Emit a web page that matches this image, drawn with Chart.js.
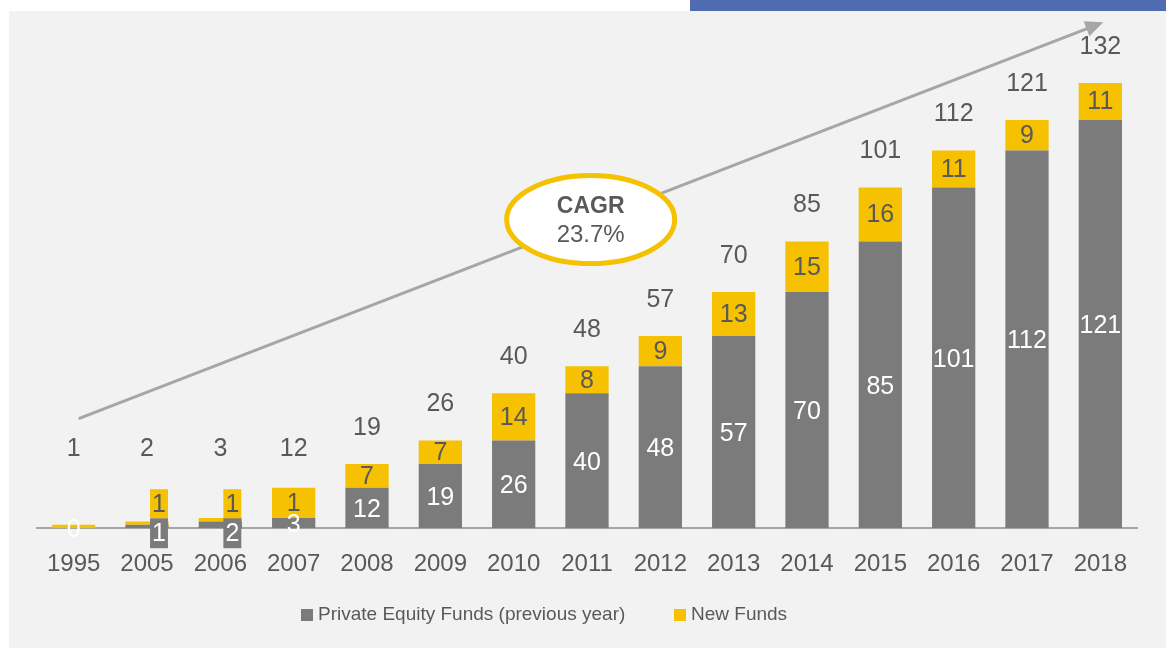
<!DOCTYPE html>
<html>
<head>
<meta charset="utf-8">
<script src="https://cdn.jsdelivr.net/npm/chart.js@4.4.1/dist/chart.umd.min.js"></script>
<style>
  html, body { margin: 0; padding: 0; background: #fff; }
  #wrap { position: relative; width: 1169px; height: 648px; overflow: hidden; }
  #panel { position: absolute; left: 9px; top: 11px; width: 1157px; height: 637px; background: #f2f2f2; }
  #topBar { position: absolute; left: 690px; top: 0; width: 476px; height: 11px; background: #506cb0; }
  #myChart { position: absolute; left: 0; top: 0; }
  .legendItem { position: absolute; top: 600px; height: 28px; line-height: 28px; font-family: "Liberation Sans", Arial, sans-serif; font-size: 19px; color: #595959; white-space: nowrap; }
  .legendBox { display: inline-block; width: 12px; height: 12px; margin-right: 5px; vertical-align: -1px; }
</style>
</head>
<body>
<div id="wrap">
  <div id="panel"></div>
  <div id="topBar"></div>
  <canvas id="myChart" width="1169" height="648"></canvas>
  <div class="legendItem" style="left:301px"><span class="legendBox" style="background:#7b7b7b"></span>Private Equity Funds (previous year)</div>
  <div class="legendItem" style="left:674px"><span class="legendBox" style="background:#f5c100"></span>New Funds</div>
</div>
<script>
const years = ['1995', '2005', '2006', '2007', '2008', '2009', '2010', '2011', '2012', '2013', '2014', '2015', '2016', '2017', '2018'];
const previousFunds = [0, 1, 2, 3, 12, 19, 26, 40, 48, 57, 70, 85, 101, 112, 121];
const newFunds = [1, 1, 1, 9, 7, 7, 14, 8, 9, 13, 15, 16, 11, 9, 11];
const totalFunds = [1, 2, 3, 12, 19, 26, 40, 48, 57, 70, 85, 101, 112, 121, 132];
// labels as printed in the source chart (2007 shows "1", 1995 has none)
const newFundLabels = ['', '1', '1', '1', '7', '7', '14', '8', '9', '13', '15', '16', '11', '9', '11'];
const cagrText = ['CAGR', '23.7%'];

const GREY = '#7b7b7b';
const YELLOW = '#f5c100';
const TEXT = '#595959';
const FONT = '"Liberation Sans", Arial, sans-serif';

// Draws value labels, totals, the growth arrow and the CAGR bubble
const annotations = {
    id: 'annotations',
    afterDatasetsDraw(chart) {
        const ctx = chart.ctx;
        const x = chart.scales.x;
        const y = chart.scales.y;
        const base = y.getPixelForValue(0);

        // growth arrow
        const x0 = x.getPixelForValue(0) + 5, y0 = y.getPixelForValue(32.5);
        const x1 = x.getPixelForValue(14) + 3, y1 = y.getPixelForValue(150);
        const ang = Math.atan2(y1 - y0, x1 - x0);
        ctx.save();
        ctx.strokeStyle = '#a6a6a6';
        ctx.fillStyle = '#a6a6a6';
        ctx.lineWidth = 3;
        ctx.beginPath();
        ctx.moveTo(x0, y0);
        ctx.lineTo(x1 - 14 * Math.cos(ang), y1 - 14 * Math.sin(ang));
        ctx.stroke();
        ctx.beginPath();
        ctx.moveTo(x1, y1);
        ctx.lineTo(x1 - 18 * Math.cos(ang) + 8 * Math.sin(ang), y1 - 18 * Math.sin(ang) - 8 * Math.cos(ang));
        ctx.lineTo(x1 - 18 * Math.cos(ang) - 8 * Math.sin(ang), y1 - 18 * Math.sin(ang) + 8 * Math.cos(ang));
        ctx.closePath();
        ctx.fill();

        // CAGR bubble
        const cx = x.getPixelForValue(7.05), cy = y.getPixelForValue(91.5);
        ctx.beginPath();
        ctx.ellipse(cx, cy, 84, 44, 0, 0, Math.PI * 2);
        ctx.fillStyle = '#fff';
        ctx.fill();
        ctx.lineWidth = 5;
        ctx.strokeStyle = YELLOW;
        ctx.stroke();
        ctx.fillStyle = TEXT;
        ctx.textAlign = 'center';
        ctx.textBaseline = 'middle';
        ctx.font = 'bold 23px ' + FONT;
        ctx.fillText(cagrText[0], cx, cy - 13);
        ctx.font = '24px ' + FONT;
        ctx.fillText(cagrText[1], cx, cy + 16);

        // segment labels
        ctx.font = '25px ' + FONT;
        const greyMeta = chart.getDatasetMeta(0);
        const yellowMeta = chart.getDatasetMeta(1);
        greyMeta.data.forEach((bar, i) => {
            const h = bar.base - bar.y;
            const label = String(previousFunds[i]);
            if (h > 0 && h < 8) {
                // too thin: boxed labels around the axis, like the source
                const bx = bar.x + 12;
                const w = ctx.measureText(label).width + 4;
                ctx.fillStyle = GREY;
                ctx.fillRect(bx - w / 2, base - 10, w, 30);
                ctx.fillStyle = '#fff';
                ctx.fillText(label, bx, base + 6);
                const yl = newFundLabels[i];
                const w2 = ctx.measureText(yl).width + 4;
                ctx.fillStyle = YELLOW;
                ctx.fillRect(bx - w2 / 2, base - 39, w2, 29);
                ctx.fillStyle = TEXT;
                ctx.fillText(yl, bx, base - 23);
            } else {
                ctx.fillStyle = '#fff';
                ctx.fillText(label, bar.x, h === 0 ? base + 2 : (bar.y + bar.base) / 2 + 2);
                const yb = yellowMeta.data[i];
                ctx.fillStyle = TEXT;
                if (newFundLabels[i]) ctx.fillText(newFundLabels[i], yb.x, (yb.y + yb.base) / 2 + 1);
            }
        });

        // totals above the bars
        yellowMeta.data.forEach((bar, i) => {
            ctx.fillStyle = TEXT;
            ctx.fillText(String(totalFunds[i]), bar.x, Math.min(bar.y - 36, base - 79));
        });
        ctx.restore();
    }
};

const config = {
    type: 'bar',
    data: {
        labels: years,
        datasets: [
            { label: 'Private Equity Funds (previous year)', data: previousFunds, backgroundColor: GREY },
            { label: 'New Funds', data: newFunds, backgroundColor: YELLOW }
        ]
    },
    options: {
        responsive: false,
        animation: false,
        barPercentage: 0.59,
        categoryPercentage: 1,
        layout: { padding: { top: 56, left: 37, right: 32, bottom: 47 } },
        plugins: {
            legend: { display: false },
            tooltip: { enabled: false }
        },
        scales: {
            x: {
                stacked: true,
                grid: { display: false, drawTicks: false },
                border: { display: true, color: '#a6a6a6', width: 2 },
                ticks: { color: TEXT, padding: 22, font: { family: FONT, size: 24 } }
            },
            y: {
                stacked: true,
                display: false,
                min: 0,
                max: 140
            }
        }
    },
    plugins: [annotations]
};

const ctx = document.getElementById('myChart').getContext('2d');
const chart = new Chart(ctx, config);
</script>
</body>
</html>
